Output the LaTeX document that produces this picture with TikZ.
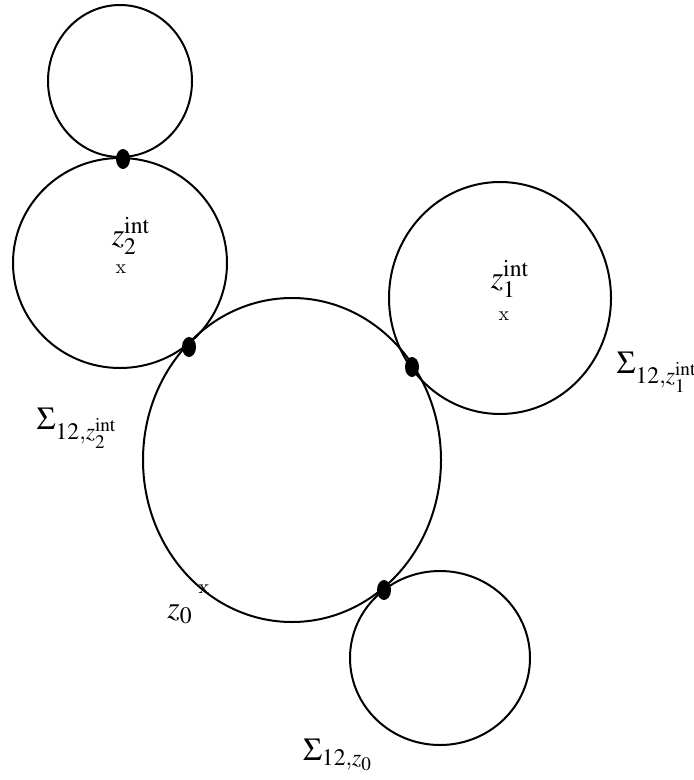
\documentclass[tikz,border=0pt]{standalone}
\usepackage{amsmath}
\usepackage{mathptmx}
\usetikzlibrary{positioning,shapes.geometric}

\begin{document}
\begin{tikzpicture}[x=0.5pt,y=-0.5pt,line width=1pt,
  joint/.style={ellipse,fill,inner sep=0pt,minimum width=7pt,minimum height=10pt},
  lab/.style={font=\fontsize{16}{18}\selectfont,inner sep=0pt},
  cross/.style={font=\fontsize{10}{11}\selectfont,inner sep=0pt}]
\useasboundingbox (0,0) rectangle (693,780);
% bubbles
\draw (120,81) ellipse [x radius=36pt,y radius=38pt];
\draw (120,263) ellipse [x radius=53.5pt,y radius=52.5pt];
\draw (292,460) ellipse [x radius=74.5pt,y radius=81pt];
\draw (500,298) ellipse [x radius=55.5pt,y radius=58pt];
\draw (440,658) ellipse [x radius=45pt,y radius=43.5pt];
% nodes
\node[joint] (j1) at (123,159) {};
\node[joint] (j2) at (189,347) {};
\node[joint] (j3) at (412,367) {};
\node[joint] (j4) at (384,590) {};
% marked points
\node[lab] (z2) at (131,236) {$z_2^{\mathrm{int}}$};
\node[cross] (x2) at (121,269) {x};
\node[lab] (z1) at (510,279) {$z_1^{\mathrm{int}}$};
\node[cross] (x1) at (504,316) {x};
\node[lab] (z0) at (180,614) {$z_0$};
\node[cross] (x0) at (204,589) {x};
% labels
\node[lab] (s2) at (77,428) {$\Sigma_{12,z_2^{\mathrm{int}}}$};
\node[lab] (s1) at (657,372) {$\Sigma_{12,z_1^{\mathrm{int}}}$};
\node[lab] (s0) at (338,755) {$\Sigma_{12,z_0}$};
\end{tikzpicture}
\end{document}
